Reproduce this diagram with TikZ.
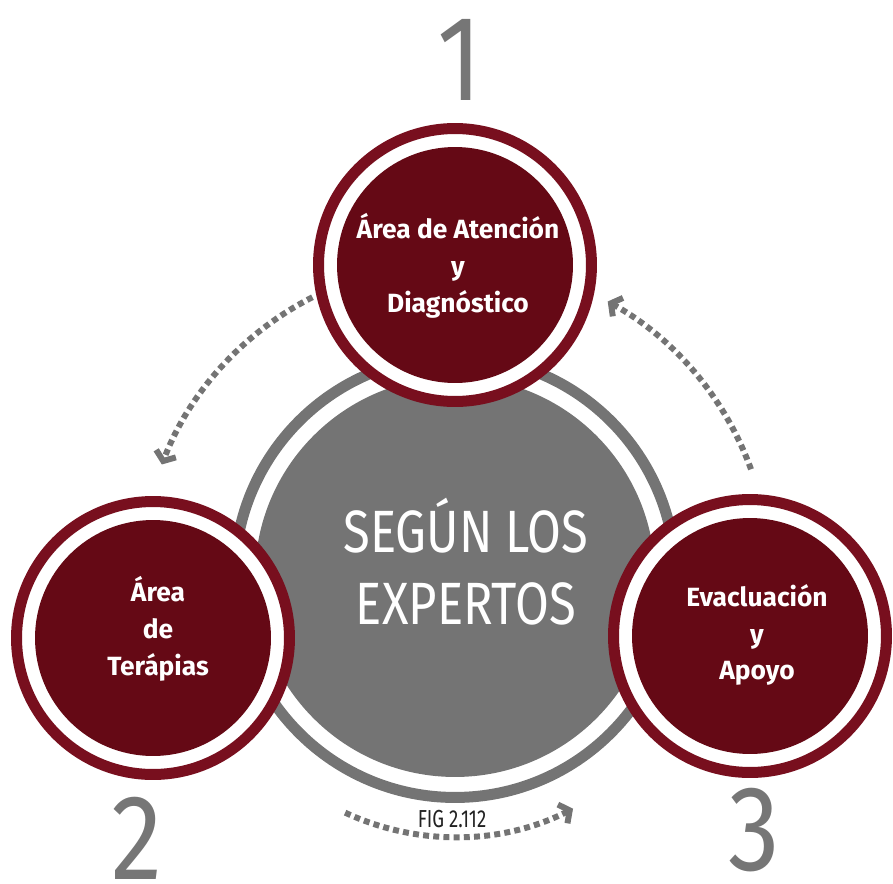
\documentclass[tikz,border=0pt]{standalone}
\usepackage{fontspec}
\setmainfont{Fira Sans}
\newfontfamily\condfont{Fira Sans}[FakeStretch=0.82]
\newfontfamily\figfont{Fira Sans}[FakeStretch=0.76]
\newfontfamily\digitfont{Fira Sans}[FakeStretch=0.85]
\usetikzlibrary{arrows.meta,positioning,calc}
\definecolor{vmaroon}{HTML}{650915}
\definecolor{vwine}{HTML}{780F1E}
\definecolor{vgrey}{HTML}{747474}
\definecolor{vdigit}{HTML}{767676}
\definecolor{vink}{HTML}{222222}
\tikzset{
  vring/.style={
    circle, draw=#1, line width=0.22cm, fill=white, inner sep=0pt},
  vcore/.style={
    circle, fill=#1, inner sep=0pt, minimum size=4.72cm},
  vlabel/.style={text=white, align=center,
    font=\bfseries\fontsize{15}{21}\selectfont},
  vnum/.style={text=vdigit, inner sep=0pt,
    font=\digitfont\fontsize{69}{69}\selectfont},
  vflow/.style={draw=vgrey, line width=3.4pt,
    dash pattern=on 3.4pt off 2.4pt,
    -{Straight Barb[length=4.5pt,width=12pt]}},
}

\begin{document}
\begin{tikzpicture}[x=0.02cm,y=0.02cm]
\useasboundingbox (0,0) rectangle (893,-883);

% centre disc
\node[circle, draw=vgrey, line width=0.22cm, inner sep=0pt,
  minimum size=8.82cm] (hubring) at (455,-577) {};
\node[circle, fill=vgrey, inner sep=0pt, minimum size=8cm]
  (hub) at (455,-577) {};
\node[text=white, align=center,
  font=\condfont\fontsize{34}{41}\selectfont] (title) at (466,-562)
  {SEGÚN LOS\\EXPERTOS};

% area 1: top
\node[vring=vwine, minimum size=5.46cm] (ringA) at (455,-265) {};
\node[vcore=vmaroon] (areaA) at (455,-265) {};
\node[vlabel] (textA) at (458,-266) {Área de Atención\\y\\Diagnóstico};

% area 2: left
\node[vring=vwine, minimum size=5.46cm] (ringB) at (153,-638) {};
\node[vcore=vmaroon] (areaB) at (153,-638) {};
\node[vlabel] (textB) at (158,-629) {Área\\de\\Terápias};

% area 3: right
\node[vring=vwine, minimum size=5.46cm] (ringC) at (750,-636) {};
\node[vcore=vmaroon] (areaC) at (750,-636) {};
\node[vlabel] (textC) at (757,-635) {Evacluación\\y\\Apoyo};

% numbers
\node[vnum] (numA) at (460,-60) {1};
\node[vnum] (numB) at (137,-838) {2};
\node[vnum] (numC) at (754,-830) {3};

% dotted flow round the centre
\coordinate (flowAB) at ($(hub)+(117:314)$);
\coordinate (flowCA) at ($(hub)+(20:315)$);
\coordinate (flowBC) at ($(hub)+(245:260)$);
\draw[vflow] (flowAB) arc[start angle=117, end angle=159, radius=314];
\draw[vflow] (flowCA) arc[start angle=20, end angle=61, radius=315];
\draw[vflow] (flowBC) arc[start angle=245, end angle=297, radius=260];
\node[text=vink, font=\figfont\fontsize{14}{14}\selectfont]
  (fig) at (452,-819) {FIG 2.112};

\end{tikzpicture}
\end{document}
